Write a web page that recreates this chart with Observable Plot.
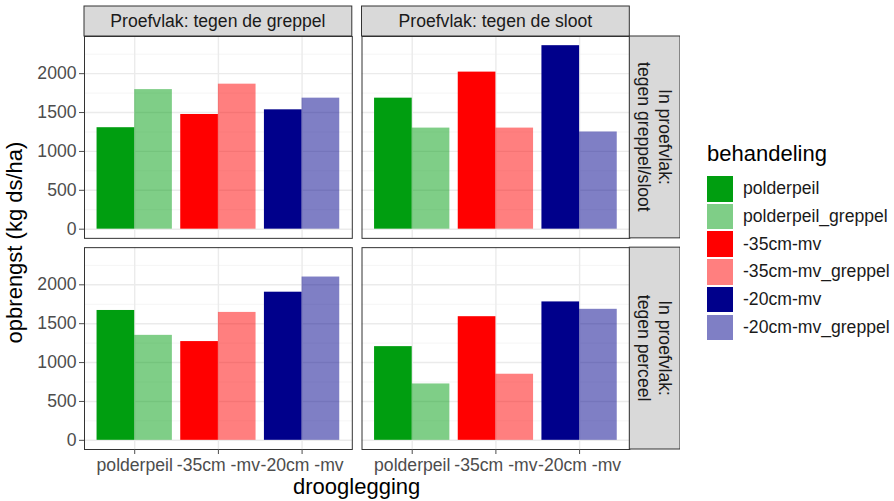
<!DOCTYPE html>
<html>
<head>
<meta charset="utf-8">
<script src="https://cdn.jsdelivr.net/npm/d3@7"></script>
<script src="https://cdn.jsdelivr.net/npm/@observablehq/plot@0.6"></script>
<style>
  html, body { margin: 0; padding: 0; background: #fff; }
  #wrap { position: relative; width: 894px; height: 501px; font-family: "Liberation Sans", Arial, sans-serif; }
  #legend { position: absolute; left: 707px; top: 141px; font-family: "Liberation Sans", Arial, sans-serif; }
  #legend .title { font-size: 22px; color: #000; height: 34px; line-height: 26px; }
  #legend .item { display: flex; align-items: center; height: 27.7px; }
  #legend .key { width: 26px; height: 25.5px; margin-right: 10px; }
  #legend .lab { font-size: 17.6px; color: #1A1A1A; }
</style>
</head>
<body>
<div id="wrap"><div id="chart"></div><div id="legend"></div></div>
<script>
// Facets
const kolommen = ["Proefvlak: tegen de greppel", "Proefvlak: tegen de sloot"];
const rijen = ["In proefvlak:\ntegen greppel/sloot", "In proefvlak:\ntegen perceel"];
// x categories
const drooglegging = ["polderpeil", "-35cm -mv", "-20cm -mv"];
// series (legend)
const behandeling = ["polderpeil", "polderpeil_greppel", "-35cm-mv", "-35cm-mv_greppel", "-20cm-mv", "-20cm-mv_greppel"];
const kleuren = ["#009E10", "rgba(0,158,16,0.5)", "#FF0000", "rgba(255,0,0,0.5)", "#00008B", "rgba(0,0,139,0.5)"];
// values (kg ds/ha), in behandeling order, per panel
const greppel_rand = [1305, 1795, 1475, 1865, 1535, 1685];
const sloot_rand = [1685, 1300, 2020, 1300, 2360, 1250];
const greppel_perceel = [1670, 1350, 1270, 1645, 1905, 2100];
const sloot_perceel = [1205, 725, 1590, 850, 1780, 1685];
// ticks
const yTicks = [0, 500, 1000, 1500, 2000];
const yMinor = [250, 750, 1250, 1750, 2250];

const panels = [
  [kolommen[0], rijen[0], greppel_rand],
  [kolommen[1], rijen[0], sloot_rand],
  [kolommen[0], rijen[1], greppel_perceel],
  [kolommen[1], rijen[1], sloot_perceel]
];
const data = [];
for (const [kolom, rij, vals] of panels) {
  vals.forEach((v, k) => data.push({
    kolom, rij,
    behandeling: behandeling[k],
    groep: Math.floor(k / 2) + 1,
    greppel: k % 2,
    waarde: v
  }));
}
const xTicks = drooglegging.map((d, i) => i + 1);
const dodge = 0.45;
const yMax = d3.max(data, d => d.waarde);
const yPad = yMax * 0.05;

const W = 680, H = 501;
const mL = 84, mR = 50.7, mT = 36, mB = 52;

const chart = Plot.plot({
  width: W, height: H,
  marginLeft: mL, marginRight: mR, marginTop: mT, marginBottom: mB,
  style: { fontFamily: "Liberation Sans, Arial, sans-serif", fontSize: "17.6px", background: "#fff" },
  fx: { domain: kolommen, paddingInner: 0.035, paddingOuter: 0, round: false, axis: null },
  fy: { domain: rijen, paddingInner: 0.044, paddingOuter: 0, round: false, axis: null },
  x: { type: "linear", domain: [0.4, 3.6] },
  y: { domain: [-yPad, yMax + yPad] },
  color: { domain: behandeling, range: kleuren },
  marks: [
    Plot.ruleY(yMinor, { stroke: "#F2F2F2", strokeWidth: 0.8 }),
    Plot.ruleY(yTicks, { stroke: "#EBEBEB", strokeWidth: 1.4 }),
    Plot.ruleX(xTicks, { stroke: "#EBEBEB", strokeWidth: 1.4 }),
    Plot.rect(data, {
      fx: "kolom", fy: "rij",
      x1: d => d.groep - dodge + d.greppel * dodge,
      x2: d => d.groep + d.greppel * dodge,
      y1: 0, y2: "waarde",
      fill: "behandeling"
    }),
    Plot.frame({ stroke: "#333333", strokeWidth: 1 }),
    Plot.axisY({ anchor: "left", ticks: yTicks, tickFormat: d3.format("d"), tickSize: 5, tickPadding: 3,
      label: null, fontSize: 17.6, color: "#4D4D4D" }),
    Plot.axisX({ anchor: "bottom", ticks: xTicks, tickFormat: i => drooglegging[i - 1], tickSize: 5, tickPadding: 4,
      label: null, fontSize: 17.6, color: "#4D4D4D" })
  ]
});

document.getElementById("chart").appendChild(chart);

// Facet strips from the facet scales
const svg = d3.select(chart);
const fx = chart.scale("fx"), fy = chart.scale("fy");
const g = svg.append("g");
for (const k of kolommen) {
  const x0 = fx.apply(k), bw = fx.bandwidth;
  g.append("rect").attr("x", x0).attr("y", 6).attr("width", bw).attr("height", mT - 6)
    .attr("fill", "#D9D9D9").attr("stroke", "#333333").attr("stroke-width", 1);
  g.append("text").attr("x", x0 + bw / 2).attr("y", (6 + mT) / 2).attr("text-anchor", "middle")
    .attr("dominant-baseline", "central").attr("fill", "#1A1A1A").attr("font-size", "17.6px").text(k);
}
const sx0 = W - mR, sx1 = 680;
for (const r of rijen) {
  const y0 = fy.apply(r), bh = fy.bandwidth;
  g.append("rect").attr("x", sx0).attr("y", y0).attr("width", sx1 - sx0).attr("height", bh)
    .attr("fill", "#D9D9D9").attr("stroke", "#333333").attr("stroke-width", 1);
  const t = g.append("text").attr("transform", `translate(${(sx0 + sx1) / 2},${y0 + bh / 2}) rotate(90)`)
    .attr("text-anchor", "middle").attr("fill", "#1A1A1A").attr("font-size", "17.6px");
  r.split("\n").forEach((line, i) => {
    t.append("tspan").attr("x", 0).attr("y", i === 0 ? -10.5 : 10.5).attr("dominant-baseline", "central").text(line);
  });
}
// Axis titles
const xr = fx.range;
svg.append("text").attr("x", (fx.apply(kolommen[0]) + fx.apply(kolommen[1]) + fx.bandwidth) / 2).attr("y", 494)
  .attr("text-anchor", "middle").attr("font-size", "22px").attr("fill", "#000").text("drooglegging");
svg.append("text").attr("transform", `translate(22,${(fy.apply(rijen[0]) + fy.apply(rijen[1]) + fy.bandwidth) / 2}) rotate(-90)`)
  .attr("text-anchor", "middle").attr("font-size", "22px").attr("fill", "#000").text("opbrengst (kg ds/ha)");

// Legend
const leg = d3.select("#legend");
leg.append("div").attr("class", "title").text("behandeling");
behandeling.forEach((b, i) => {
  const it = leg.append("div").attr("class", "item");
  it.append("div").attr("class", "key").style("background", kleuren[i]);
  it.append("div").attr("class", "lab").text(b);
});
</script>
</body>
</html>
